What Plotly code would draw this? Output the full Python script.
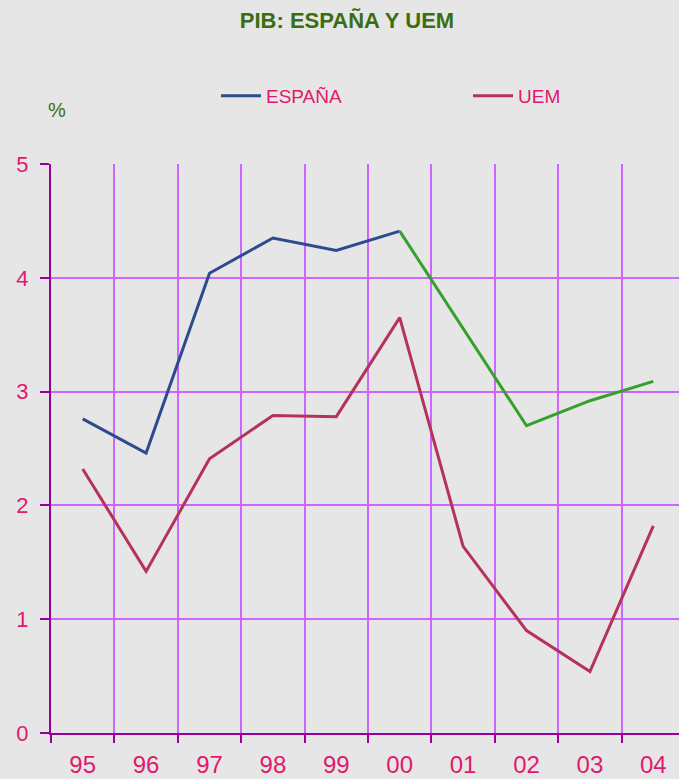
import plotly.graph_objects as go

years = ["95", "96", "97", "98", "99", "00", "01", "02", "03", "04"]
espana_hist = [2.76, 2.46, 4.04, 4.35, 4.24, 4.41]
espana_prev_years = ["00", "01", "02", "03", "04"]
espana_prev = [4.41, 3.56, 2.70, 2.92, 3.09]
uem = [2.32, 1.42, 2.41, 2.79, 2.78, 3.65, 1.64, 0.90, 0.54, 1.82]

bg = "#e6e6e6"
pink = "#e0196e"
grid = "#cc66ff"
axis_c = "#990099"

fig = go.Figure()
fig.add_trace(go.Scatter(x=years[:6], y=espana_hist, mode="lines", name="ESPAÑA",
                         line=dict(color="#2e4a8f", width=3), legend="legend"))
fig.add_trace(go.Scatter(x=years, y=uem, mode="lines", name="UEM",
                         line=dict(color="#b5325a", width=3), legend="legend2"))
fig.add_trace(go.Scatter(x=espana_prev_years, y=espana_prev, mode="lines", showlegend=False,
                         line=dict(color="#36a02c", width=3)))

leg_y = 1 + (164 - 96) / 569
leg_common = dict(orientation="h", xanchor="left", y=leg_y, yanchor="middle",
                  bgcolor="rgba(0,0,0,0)", font=dict(size=19, color=pink), itemwidth=40)

fig.update_layout(
    width=679, height=779,
    paper_bgcolor=bg, plot_bgcolor=bg,
    margin=dict(l=51, r=0, t=164, b=46),
    font=dict(family="Liberation Sans, Arial, sans-serif", color=pink),
    title=dict(text="<b>PIB: ESPAÑA Y UEM</b>", x=0.511, xanchor="center", y=1 - 20 / 779, yanchor="middle",
               font=dict(size=22, color="#3a6e10")),
    legend=dict(x=(216 - 51) / 628, **leg_common),
    legend2=dict(x=(468 - 51) / 628, **leg_common),
    xaxis=dict(type="category", categoryorder="array", categoryarray=years,
               range=[-0.5, 9.405], tickson="boundaries", showgrid=True, gridcolor=grid, gridwidth=1.5,
               ticks="outside", ticklen=8, tickcolor=axis_c, tickwidth=1.5,
               showline=True, linecolor=axis_c, linewidth=2, automargin=False,
               tickfont=dict(size=24, color=pink), ticklabelstandoff=9, zeroline=False),
    yaxis=dict(range=[0, 5], dtick=1, showgrid=True, gridcolor=grid, gridwidth=1.5,
               ticks="outside", ticklen=9, tickcolor=axis_c, tickwidth=1.5,
               showline=True, linecolor=axis_c, linewidth=2, automargin=False,
               tickfont=dict(size=22, color=pink), ticklabelstandoff=7, zeroline=False),
    annotations=[dict(text="%", xref="paper", yref="paper", x=(57 - 51) / 628, y=1 + (164 - 110) / 569,
                      xanchor="center", yanchor="middle", showarrow=False,
                      font=dict(size=20, color="#3a6e10"))],
)

fig.write_html("out.html", config={"displayModeBar": False},
               post_script="document.body.style.margin='0';document.body.style.overflow='hidden';")
